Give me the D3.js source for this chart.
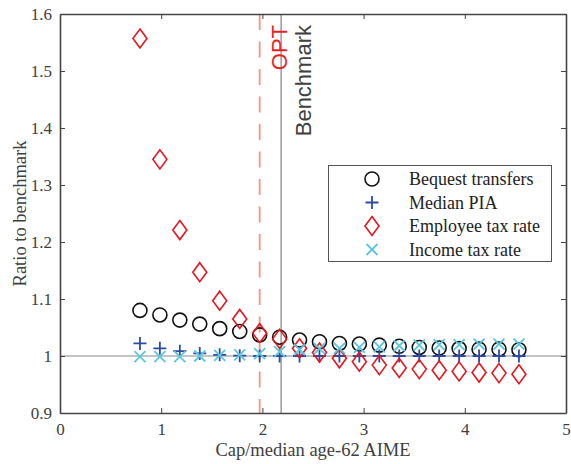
<!DOCTYPE html>
<html><head><meta charset="utf-8">
<script src="https://cdn.jsdelivr.net/npm/d3@7"></script>
<style>html,body{margin:0;padding:0;background:#fff;}</style>
</head><body>
<svg id="c" width="571" height="464"></svg>
<script>
const capRatio = [0.790, 0.987, 1.184, 1.381, 1.578, 1.776, 1.973, 2.170, 2.367, 2.564, 2.761, 2.958, 3.155, 3.352, 3.550, 3.747, 3.944, 4.141, 4.338, 4.535];
const bequest = [1.080, 1.072, 1.063, 1.056, 1.048, 1.043, 1.037, 1.033, 1.028, 1.025, 1.022, 1.021, 1.019, 1.017, 1.015, 1.014, 1.013, 1.012, 1.012, 1.011];
const medianPIA = [1.022, 1.0135, 1.0085, 1.0045, 1.002, 1.0005, 1.000, 1.000, 1.000, 1.000, 1.000, 1.000, 1.000, 1.000, 1.000, 1.000, 1.000, 1.000, 1.000, 1.000];
const employeeTax = [1.557, 1.345, 1.221, 1.147, 1.097, 1.065, 1.040, 1.030, 1.0135, 1.006, 0.996, 0.990, 0.984, 0.979, 0.977, 0.975, 0.973, 0.971, 0.970, 0.968];
const incomeTax = [0.999, 0.999, 0.999, 1.000, 1.001, 1.002, 1.004, 1.0075, 1.011, 1.013, 1.0135, 1.015, 1.016, 1.018, 1.019, 1.020, 1.020, 1.021, 1.021, 1.021];
const xTicks = [0, 1, 2, 3, 4, 5];
const yTicks = [0.9, 1, 1.1, 1.2, 1.3, 1.4, 1.5, 1.6];
const optCap = 1.973;
const benchCap = 2.185;
const seriesNames = ["Bequest transfers", "Median PIA", "Employee tax rate", "Income tax rate"];

const svg = d3.select("#c");
const L = 60, R = 566, T = 14, B = 413;
const x = d3.scaleLinear().domain([0, 5]).range([L, R]);
const y = d3.scaleLinear().domain([0.9, 1.6]).range([B, T]);
const axisCol = "#444";
const serif = "'Liberation Serif','Times New Roman',serif";
const sans = "'Liberation Sans',Arial,sans-serif";

// reference lines
svg.append("line").attr("x1", L).attr("x2", R).attr("y1", y(1)).attr("y2", y(1))
  .attr("stroke", "#8a8a8a").attr("stroke-width", 1.2);
svg.append("line").attr("x1", x(benchCap)).attr("x2", x(benchCap)).attr("y1", T).attr("y2", B)
  .attr("stroke", "#808080").attr("stroke-width", 1.2);
svg.append("line").attr("x1", x(optCap)).attr("x2", x(optCap)).attr("y1", T).attr("y2", B)
  .attr("stroke", "#f29584").attr("stroke-width", 1.8).attr("stroke-dasharray", "16,11.5");

// axes (box with inward ticks)
const fmt = d => (d === 1 ? "1" : d3.format(".1f")(d));
const gx = svg.append("g").attr("transform", `translate(0,${B})`)
  .call(d3.axisBottom(x).tickValues(xTicks).tickFormat(d3.format("d")).tickSizeInner(-5).tickSizeOuter(0).tickPadding(10));
const gxt = svg.append("g").attr("transform", `translate(0,${T})`)
  .call(d3.axisTop(x).tickValues(xTicks).tickFormat("").tickSizeInner(-5).tickSizeOuter(0));
const gy = svg.append("g").attr("transform", `translate(${L},0)`)
  .call(d3.axisLeft(y).tickValues(yTicks).tickFormat(fmt).tickSizeInner(-5).tickSizeOuter(0).tickPadding(8));
const gyr = svg.append("g").attr("transform", `translate(${R},0)`)
  .call(d3.axisRight(y).tickValues(yTicks).tickFormat("").tickSizeInner(-5).tickSizeOuter(0));
[gx, gxt, gy, gyr].forEach(g => {
  g.select(".domain").attr("stroke", axisCol).attr("stroke-width", 1.6);
  g.selectAll(".tick line").attr("stroke", axisCol).attr("stroke-width", 1);
  g.selectAll("text").attr("font-family", serif).attr("font-size", 17).attr("fill", "#404040");
});
gx.selectAll("text").attr("dy", "0.71em");

// axis labels
svg.append("text").attr("x", (L + R) / 2).attr("y", 456).attr("text-anchor", "middle")
  .attr("font-family", serif).attr("font-size", 18.5).attr("fill", "#404040").text("Cap/median age-62 AIME");
svg.append("text").attr("transform", `translate(26,${(T + B) / 2}) rotate(-90)`).attr("text-anchor", "middle")
  .attr("font-family", serif).attr("font-size", 18.5).attr("fill", "#404040").text("Ratio to benchmark");

// vertical line annotations
svg.append("text").attr("transform", `translate(286.5,25) rotate(-90)`).attr("text-anchor", "end")
  .attr("font-family", sans).attr("font-size", 22).attr("fill", "#ee1c25").text("OPT");
svg.append("text").attr("transform", `translate(310.5,25) rotate(-90)`).attr("text-anchor", "end")
  .attr("font-family", sans).attr("font-size", 22).attr("fill", "#404040").text("Benchmark");

// marker drawers
const cols = { bequest: "#111", pia: "#2c4aa5", emp: "#e8141e", inc: "#5cc6dc" };
function circ(g, cx, cy) {
  g.append("circle").attr("cx", cx).attr("cy", cy).attr("r", 7).attr("fill", "none")
    .attr("stroke", cols.bequest).attr("stroke-width", 1.6);
}
function plus(g, cx, cy) {
  g.append("path").attr("d", `M${cx - 6.5},${cy}H${cx + 6.5}M${cx},${cy - 6.5}V${cy + 6.5}`)
    .attr("stroke", cols.pia).attr("stroke-width", 1.8).attr("fill", "none");
}
function diam(g, cx, cy) {
  g.append("path").attr("d", `M${cx},${cy - 9.5}L${cx + 7},${cy}L${cx},${cy + 9.5}L${cx - 7},${cy}Z`)
    .attr("stroke", cols.emp).attr("stroke-width", 1.6).attr("fill", "none");
}
function cross(g, cx, cy) {
  const s = 5.5;
  g.append("path").attr("d", `M${cx - s},${cy - s}L${cx + s},${cy + s}M${cx - s},${cy + s}L${cx + s},${cy - s}`)
    .attr("stroke", cols.inc).attr("stroke-width", 1.8).attr("fill", "none");
}

const gm = svg.append("g");
capRatio.forEach((c, i) => circ(gm, x(c), y(bequest[i])));
capRatio.forEach((c, i) => plus(gm, x(c), y(medianPIA[i])));
capRatio.forEach((c, i) => diam(gm, x(c), y(employeeTax[i])));
capRatio.forEach((c, i) => cross(gm, x(c), y(incomeTax[i])));

// legend
const lg = svg.append("g");
lg.append("rect").attr("x", 328.5).attr("y", 165.5).attr("width", 223).attr("height", 96)
  .attr("fill", "#fff").attr("stroke", "#555").attr("stroke-width", 1);
const drawers = [circ, plus, diam, cross];
const rowY = [179, 202.5, 226, 249.5];
seriesNames.forEach((n, i) => {
  drawers[i](lg, 372, rowY[i]);
  lg.append("text").attr("x", 409).attr("y", rowY[i]).attr("dy", "0.35em")
    .attr("font-family", serif).attr("font-size", 18).attr("fill", "#222").text(n);
});
</script>
</body></html>
